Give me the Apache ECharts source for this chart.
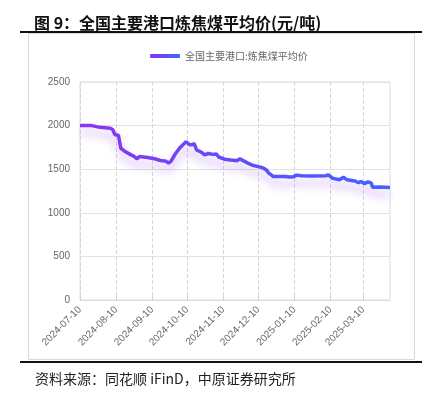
<!DOCTYPE html>
<html>
<head>
<meta charset="utf-8">
<script src="https://cdn.jsdelivr.net/npm/echarts@6/dist/echarts.min.js"></script>
<style>
  html, body { margin: 0; padding: 0; background: #fff; }
  #chartLineBox { width: 432px; height: 399px; }
</style>
</head>
<body>
<div id="chartLineBox"></div>
<script>
// 数据
const seriesName = '全国主要港口:炼焦煤平均价'
const firstDay = '2024-07-10'
const lastDay = '2025-04-02'
const priceDates = [
  '2024-07-10', '2024-07-20', '2024-07-27', '2024-08-05', '2024-08-07', '2024-08-09', '2024-08-12', '2024-08-14',
  '2024-08-17', '2024-08-22', '2024-08-25', '2024-08-28', '2024-08-30', '2024-09-06', '2024-09-12', '2024-09-17',
  '2024-09-22', '2024-09-24', '2024-09-26', '2024-09-30', '2024-10-04', '2024-10-09', '2024-10-12', '2024-10-14',
  '2024-10-16', '2024-10-18', '2024-10-22', '2024-10-25', '2024-10-28', '2024-11-01', '2024-11-04', '2024-11-06',
  '2024-11-11', '2024-11-16', '2024-11-22', '2024-11-24', '2024-11-27', '2024-12-01', '2024-12-05', '2024-12-10',
  '2024-12-14', '2024-12-17', '2024-12-19', '2024-12-23', '2025-01-02', '2025-01-06', '2025-01-09', '2025-01-12',
  '2025-01-16', '2025-01-25', '2025-02-06', '2025-02-08', '2025-02-12', '2025-02-18', '2025-02-21', '2025-02-24',
  '2025-03-03', '2025-03-06', '2025-03-08', '2025-03-11', '2025-03-14', '2025-03-17', '2025-03-18', '2025-03-24',
  '2025-04-02'
]
const priceValues = [
  2000, 2000, 1980, 1970, 1955, 1895, 1890, 1740,
  1710, 1670, 1650, 1620, 1645, 1635, 1620, 1600,
  1590, 1570, 1590, 1680, 1750, 1815, 1780, 1780,
  1795, 1720, 1695, 1665, 1680, 1670, 1675, 1640,
  1615, 1605, 1598, 1620, 1598, 1570, 1545, 1530,
  1515, 1490, 1455, 1415, 1415, 1410, 1412, 1432,
  1425, 1422, 1425, 1435, 1395, 1380, 1408, 1380,
  1365, 1345, 1360, 1335, 1355, 1340, 1292, 1295,
  1290
]
const yTicks = [0, 500, 1000, 1500, 2000, 2500]

// 每天一个类目
const categories = []
for (let d = new Date(firstDay + 'T00:00:00Z'); d <= new Date(lastDay + 'T00:00:00Z'); d.setUTCDate(d.getUTCDate() + 1)) {
  categories.push(d.toISOString().slice(0, 10))
}
const isTenth = (idx, val) => val.slice(8) === '10'

const chartLine = echarts.init(document.getElementById('chartLineBox'))
const lineColor = new echarts.graphic.LinearGradient(0, 0, 1, 0, [
  { offset: 0, color: '#8a35f2' },
  { offset: 1, color: '#3f63ff' }
])
const option = {
  animation: false,
  title: [
    {
      text: '图 9：全国主要港口炼焦煤平均价(元/吨)',
      left: 29,
      top: 10,
      textStyle: { fontFamily: 'Noto Sans CJK SC', fontSize: 16, fontWeight: 'bold', color: '#111' }
    },
    {
      text: '资料来源：同花顺 iFinD，中原证券研究所',
      left: 30,
      top: 367,
      textStyle: { fontFamily: 'Noto Sans CJK SC', fontSize: 14, fontWeight: 'normal', color: '#222' }
    }
  ],
  graphic: [
    { type: 'rect', shape: { x: 28.5, y: 33.5, width: 386, height: 326 }, style: { fill: 'none', stroke: '#d9d9d9', lineWidth: 1 } },
    { type: 'rect', shape: { x: 20, y: 31, width: 402, height: 2 }, style: { fill: '#111' } },
    { type: 'rect', shape: { x: 20, y: 361, width: 402, height: 2 }, style: { fill: '#111' } }
  ],
  legend: {
    data: [{ name: seriesName, icon: 'roundRect', itemStyle: { color: lineColor } }],
    top: 46,
    left: 145,
    itemWidth: 30,
    itemHeight: 4,
    itemGap: 5,
    textStyle: { color: '#666', fontSize: 10, fontFamily: 'Noto Sans CJK SC' }
  },
  grid: {
    left: 80,
    right: 42,
    top: 82,
    bottom: 99,
    show: true,
    borderColor: '#dcdcdc',
    borderWidth: 1
  },
  xAxis: {
    type: 'category',
    data: categories,
    boundaryGap: false,
    axisLine: { show: true, lineStyle: { color: '#dcdcdc' } },
    axisTick: { show: true, inside: true, length: 4, interval: isTenth, lineStyle: { color: '#cfcfcf' } },
    axisLabel: { interval: isTenth, rotate: 45, color: '#666', fontSize: 10, margin: 8, fontFamily: 'Liberation Sans' },
    splitLine: { show: true, interval: isTenth, lineStyle: { type: 'dashed', color: '#d6d6d6' } }
  },
  yAxis: {
    type: 'value',
    min: yTicks[0],
    max: yTicks[yTicks.length - 1],
    interval: 500,
    axisLine: { show: false },
    axisTick: { show: false },
    axisLabel: { color: '#666', fontSize: 10, margin: 10, fontFamily: 'Liberation Sans', formatter: v => String(v) },
    splitLine: { lineStyle: { color: '#e2e2e2' } }
  },
  series: [
    {
      name: seriesName,
      type: 'line',
      data: priceDates.map((d, i) => [d, priceValues[i]]),
      showSymbol: false,
      symbol: 'none',
      smooth: false,
      lineStyle: {
        width: 3.5,
        color: lineColor,
        shadowColor: 'rgba(150, 80, 240, 0.45)',
        shadowBlur: 10,
        shadowOffsetY: 7
      }
    }
  ]
}
chartLine.setOption(option)
</script>
</body>
</html>
